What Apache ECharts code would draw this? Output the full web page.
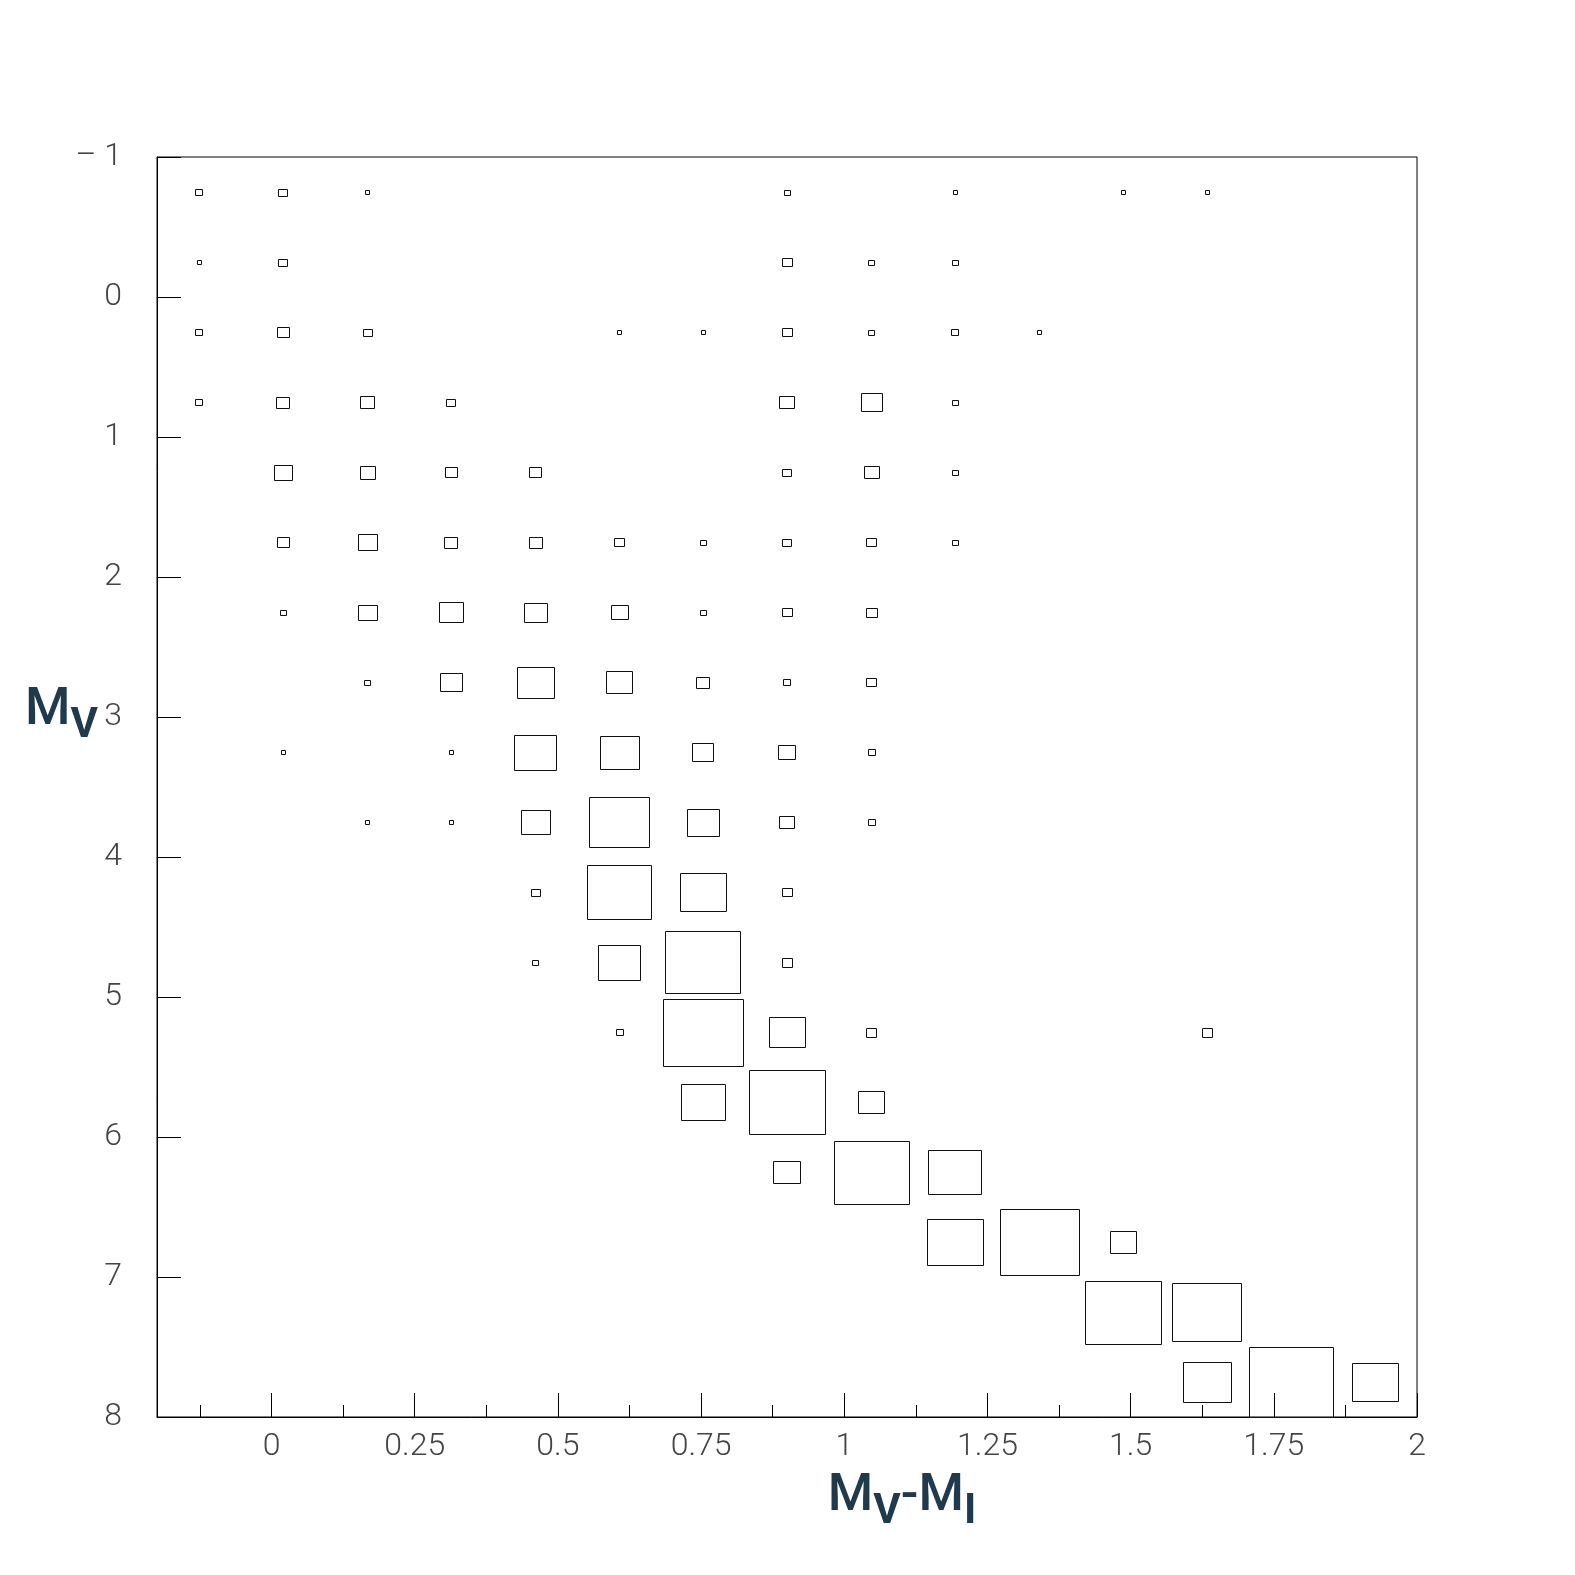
<!DOCTYPE html>
<html>
<head>
<meta charset="utf-8">
<script src="https://cdn.jsdelivr.net/npm/echarts@6/dist/echarts.min.js"></script>
<style>
  html, body { margin: 0; padding: 0; background: #ffffff; }
  #chart { width: 1575px; height: 1575px; }
</style>
</head>
<body>
<div id="chart"></div>
<script>
// ---- Bins ----
// M_V - M_I bin centres (15 bins from -0.2 to 2)
const colorBinCenters = [-0.1267, 0.0200, 0.1667, 0.3133, 0.4600, 0.6067, 0.7533, 0.9000,
                         1.0467, 1.1933, 1.3400, 1.4867, 1.6333, 1.7800, 1.9267];
const colorBinWidth = 0.14667;
// M_V bin centres (18 bins from -1 to 8)
const magBinCenters = [-0.75, -0.25, 0.25, 0.75, 1.25, 1.75, 2.25, 2.75, 3.25,
                       3.75, 4.25, 4.75, 5.25, 5.75, 6.25, 6.75, 7.25, 7.75];
const magBinHeight = 0.5;

// ---- Cell contents (rows: M_V bins, columns: colour bins) ----
const starCounts = [
  // c0  c1  c2  c3  c4   c5   c6   c7   c8   c9  c10  c11  c12  c13  c14
  [  3,  4,  1,  0,  0,   0,   0,   2,   0,   1,   0,   1,   1,   0,   0], // -0.75
  [  1,  4,  0,  0,  0,   0,   0,   5,   2,   2,   0,   0,   0,   0,   0], // -0.25
  [  3,  8,  4,  0,  0,   1,   1,   5,   2,   3,   1,   0,   0,   0,   0], //  0.25
  [  3, 10, 11,  4,  0,   0,   0,  12,  25,   2,   0,   0,   0,   0,   0], //  0.75
  [  0, 17, 13,  8,  8,   0,   0,   4,  12,   2,   0,   0,   0,   0,   0], //  1.25
  [  0,  8, 20,  9,  9,   5,   2,   4,   5,   2,   0,   0,   0,   0,   0], //  1.75
  [  0,  2, 19, 33, 28,  15,   2,   5,   7,   0,   0,   0,   0,   0,   0], //  2.25
  [  0,  0,  2, 27, 75,  37,  10,   3,   5,   0,   0,   0,   0,   0,   0], //  2.75
  [  0,  1,  0,  1, 95,  84,  25,  15,   3,   0,   0,   0,   0,   0,   0], //  3.25
  [  0,  0,  1,  1, 46, 201,  56,  12,   3,   0,   0,   0,   0,   0,   0], //  3.75
  [  0,  0,  0,  0,  4, 228, 116,   5,   0,   0,   0,   0,   0,   0,   0], //  4.25
  [  0,  0,  0,  0,  2,  95, 307,   6,   0,   0,   0,   0,   0,   0,   0], //  4.75
  [  0,  0,  0,  0,  0,   3, 355,  71,   6,   0,   0,   0,   6,   0,   0], //  5.25
  [  0,  0,  0,  0,  0,   0, 105, 321,  37,   0,   0,   0,   0,   0,   0], //  5.75
  [  0,  0,  0,  0,  0,   0,   0,  39, 310, 154,   0,   0,   0,   0,   0], //  6.25
  [  0,  0,  0,  0,  0,   0,   0,   0,   0, 171, 346,  37,   0,   0,   0], //  6.75
  [  0,  0,  0,  0,  0,   0,   0,   0,   0,   0,   0, 318, 265,   0,   0], //  7.25
  [  0,  0,  0,  0,  0,   0,   0,   0,   0,   0,   0,   0, 125, 388, 116]  //  7.75
];

// ---- Axis ticks ----
const xMajorTicks = [0, 0.25, 0.5, 0.75, 1, 1.25, 1.5, 1.75, 2];
const xMinorTicks = [-0.125, 0.125, 0.375, 0.625, 0.875, 1.125, 1.375, 1.625, 1.875];
const yRange = [-1, 8];

// ---- Build cell list for the library ----
const cells = [];
let maxCount = 0;
starCounts.forEach(function (row, r) {
  row.forEach(function (c, i) {
    if (c > 0) {
      cells.push([colorBinCenters[i], magBinCenters[r], c]);
      if (c > maxCount) maxCount = c;
    }
  });
});

const titleColor = '#1f3a4c';
const tickFont = { fontFamily: 'Roboto', fontWeight: 300, fontSize: 32, color: '#444' };
const rich = {
  m: { fontFamily: 'Roboto', fontWeight: 500, fontSize: 52, lineHeight: 52, color: titleColor },
  s: { fontFamily: 'Roboto', fontWeight: 'bold', fontSize: 42, lineHeight: 42, color: titleColor, padding: [31, 0, 0, 0] }
};

const chart = echarts.init(document.getElementById('chart'), null, { renderer: 'canvas' });
chart.setOption({
  animation: false,
  backgroundColor: '#ffffff',
  grid: {
    left: 157, top: 157, right: 158, bottom: 158,
    show: true, borderColor: '#000', borderWidth: 1,
    containLabel: false, outerBoundsMode: 'none'
  },
  xAxis: [{
    type: 'value', min: -0.2, max: 2, position: 'bottom',
    axisLine: { show: true, onZero: false, lineStyle: { color: '#000', width: 1 } },
    axisTick: { show: true, inside: true, length: 24, customValues: xMajorTicks, lineStyle: { color: '#000', width: 1 } },
    axisLabel: Object.assign({ show: true, margin: 14, customValues: xMajorTicks }, tickFont),
    splitLine: { show: false },
    name: '{m|M}{s|V}{m|-M}{s|I}',
    nameLocation: 'middle', nameGap: 54, nameMoveOverlap: false,
    nameTextStyle: { rich: rich, padding: [0, 0, 0, 230] }
  }, {
    type: 'value', min: -0.2, max: 2, position: 'bottom',
    axisLine: { show: false, onZero: false },
    axisTick: { show: true, inside: true, length: 12, customValues: xMinorTicks, lineStyle: { color: '#000', width: 1 } },
    axisLabel: { show: false },
    splitLine: { show: false }
  }],
  yAxis: {
    type: 'value', inverse: true, min: yRange[0], max: yRange[1], interval: 1,
    axisLine: { show: true, onZero: false, lineStyle: { color: '#000', width: 1 } },
    axisTick: { show: true, inside: true, length: 24, lineStyle: { color: '#000', width: 1 } },
    axisLabel: Object.assign({
      show: true, margin: 35,
      formatter: function (v) { return v < 0 ? '\u2013 ' + Math.abs(v) : String(v); }
    }, tickFont),
    splitLine: { show: false },
    name: '{m|M}{s|V}',
    nameLocation: 'middle', nameRotate: 0, nameGap: 59, nameMoveOverlap: false,
    nameTextStyle: { rich: rich, padding: [0, 0, 153, 0] }
  },
  series: [{
    type: 'custom',
    coordinateSystem: 'cartesian2d',
    xAxisIndex: 0, yAxisIndex: 0,
    encode: { x: 0, y: 1 },
    data: cells,
    renderItem: function (params, api) {
      const center = api.coord([api.value(0), api.value(1)]);
      const size = api.size([colorBinWidth, magBinHeight]);
      const f = Math.sqrt(api.value(2) / maxCount);
      const w = Math.max(2, Math.round(size[0] * f));
      const h = Math.max(2, Math.round(size[1] * f));
      const x0 = Math.round(center[0] - w / 2) + 0.5;
      const y0 = Math.round(center[1] - h / 2) + 0.5;
      return {
        type: 'rect',
        shape: { x: x0, y: y0, width: w, height: h },
        style: { fill: 'none', stroke: '#111', lineWidth: 1 }
      };
    }
  }]
});
</script>
</body>
</html>
